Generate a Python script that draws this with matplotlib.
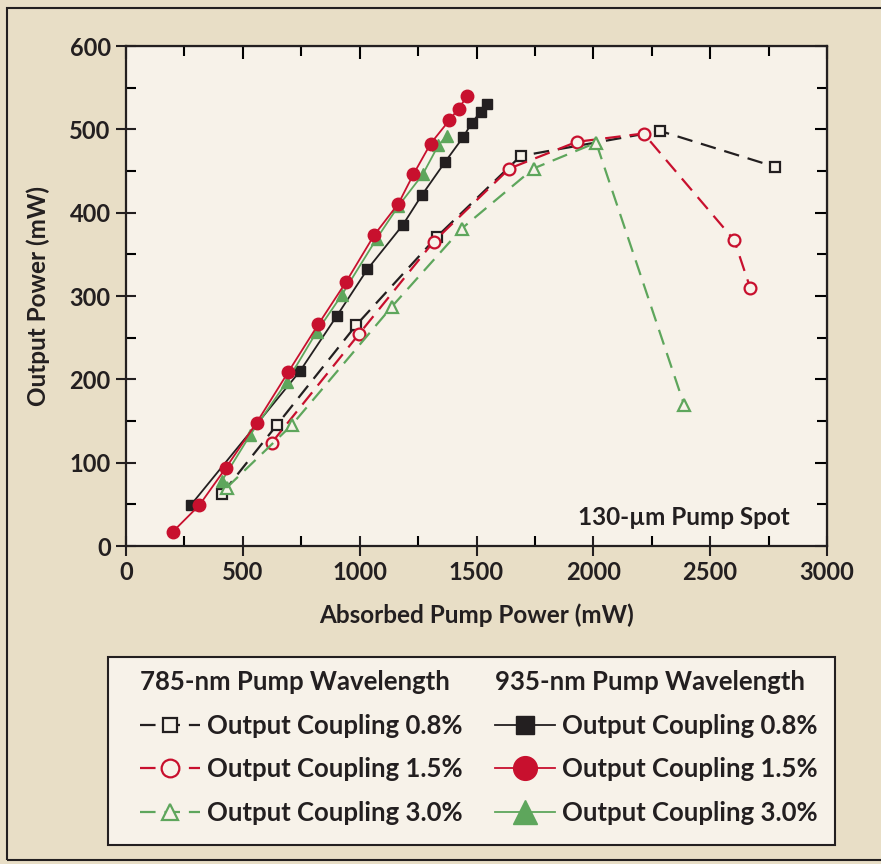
import matplotlib.pyplot as plt
from matplotlib.patches import Rectangle
from matplotlib.ticker import MultipleLocator

plt.rcParams['font.family'] = ['Lato', 'DejaVu Sans']
plt.rcParams['font.weight'] = 'bold'
plt.rcParams['axes.labelweight'] = 'bold'

# 935-nm pump wavelength (filled markers, solid lines)
x_935_08 = [277, 745, 902, 1033, 1184, 1266, 1366, 1444, 1480, 1518, 1544]
y_935_08 = [49, 210, 276, 332, 385, 421, 461, 491, 508, 521, 531]
x_935_15 = [200, 314, 428, 559, 695, 823, 942, 1062, 1166, 1230, 1304, 1384, 1423, 1461]
y_935_15 = [17, 49, 94, 148, 209, 266, 317, 373, 411, 446, 483, 511, 525, 540]
x_935_30 = [410, 531, 688, 816, 923, 1073, 1166, 1270, 1337, 1373]
y_935_30 = [78, 133, 197, 257, 301, 369, 408, 446, 481, 492]

# 785-nm pump wavelength (open markers, dashed lines)
x_785_08 = [412, 645, 985, 1330, 1689, 2286, 2778]
y_785_08 = [63, 145, 265, 371, 468, 498, 455]
x_785_15 = [624, 999, 1316, 1641, 1929, 2215, 2603, 2671]
y_785_15 = [124, 255, 365, 453, 485, 495, 367, 310]
x_785_30 = [431, 709, 1137, 1437, 1744, 2012, 2389]
y_785_30 = [70, 145, 287, 381, 453, 484, 169]

labels = ["Output Coupling 0.8%", "Output Coupling 1.5%", "Output Coupling 3.0%"]

BLACK = "#231f20"
RED = "#c8102e"
GREEN = "#5ea65c"
PAGE = "#e8dec6"
PANEL = "#f7f2e9"
DASH = (0, (7, 4))

W, H = 881, 864
fig = plt.figure(figsize=(W / 100, H / 100), dpi=100, facecolor=PAGE)

# outer frame of the figure
fig.patches.append(Rectangle((7 / W, 1 - 860 / H), 2, (860 - 8) / H,
                             transform=fig.transFigure, fill=False,
                             ec=BLACK, lw=1.5))

ax = fig.add_axes([126 / W, 1 - 546 / H, (827 - 126) / W, 500 / H])
ax.set_facecolor(PANEL)

h785 = []
for xs, ys, c, m, ms in [(x_785_08, y_785_08, BLACK, "s", 6.5),
                         (x_785_15, y_785_15, RED, "o", 8.5),
                         (x_785_30, y_785_30, GREEN, "^", 8)]:
    ln, = ax.plot(xs, ys, color=c, ls=DASH, lw=1.6, marker=m, ms=ms,
                  mfc=PANEL, mec=c, mew=1.6)
    h785.append(ln)

h935 = []
for xs, ys, c, m, ms in [(x_935_08, y_935_08, BLACK, "s", 7),
                         (x_935_30, y_935_30, GREEN, "^", 9),
                         (x_935_15, y_935_15, RED, "o", 9)]:
    ln, = ax.plot(xs, ys, color=c, ls="-", lw=1.3, marker=m, ms=ms,
                  mfc=c, mec=c)
    h935.append(ln)
h935 = [h935[0], h935[2], h935[1]]

ax.set_xlim(0, 3000)
ax.set_ylim(0, 600)
ax.xaxis.set_major_locator(MultipleLocator(500))
ax.xaxis.set_minor_locator(MultipleLocator(250))
ax.yaxis.set_major_locator(MultipleLocator(100))
ax.yaxis.set_minor_locator(MultipleLocator(50))
ax.tick_params(which="major", direction="inout", length=14, width=1.5,
               labelsize=17, colors=BLACK, pad=4)
ax.tick_params(which="minor", direction="in", length=7, width=1.5,
               top=True, right=True)
for s in ax.spines.values():
    s.set_linewidth(1.6)
    s.set_color(BLACK)

# inward major ticks on the top and right sides
top = ax.secondary_xaxis("top")
top.xaxis.set_major_locator(MultipleLocator(500))
top.tick_params(direction="in", length=9, width=1.5, labeltop=False)
right = ax.secondary_yaxis("right")
right.yaxis.set_major_locator(MultipleLocator(100))
right.tick_params(direction="in", length=9, width=1.5, labelright=False)

ax.set_xlabel("Absorbed Pump Power (mW)", fontsize=17.5, labelpad=14, color=BLACK)
ax.set_ylabel("Output Power (mW)", fontsize=17.5, labelpad=14, color=BLACK)
ax.text(2840, 34, "130-µm Pump Spot", fontsize=17.5, ha="right", va="center",
        color=BLACK)

# legend box
fig.patches.append(Rectangle((108 / W, 1 - 845 / H), (835 - 108) / W, (845 - 657) / H,
                             transform=fig.transFigure, fc=PANEL, ec=BLACK,
                             lw=1.5, zorder=1))

common = dict(frameon=False, fontsize=18.5, title_fontsize=18.5, alignment="left",
              handlelength=2.35, handletextpad=0.25, labelspacing=0.76,
              borderpad=0, borderaxespad=0, loc="upper left")
leg1 = fig.legend(h785, labels, title="785-nm Pump Wavelength",
                  bbox_to_anchor=(140 / W, 1 - 670 / H), markerscale=1.5, **common)
leg2 = fig.legend(h935, labels, title="935-nm Pump Wavelength",
                  bbox_to_anchor=(495 / W, 1 - 670 / H), markerscale=1.9, **common)
for leg in (leg1, leg2):
    leg.get_title().set_fontweight("bold")
    leg.get_title().set_color(BLACK)
    for t in leg.get_texts():
        t.set_color(BLACK)
    leg.set_zorder(3)

fig.savefig("out.png", dpi=100, facecolor=PAGE)
